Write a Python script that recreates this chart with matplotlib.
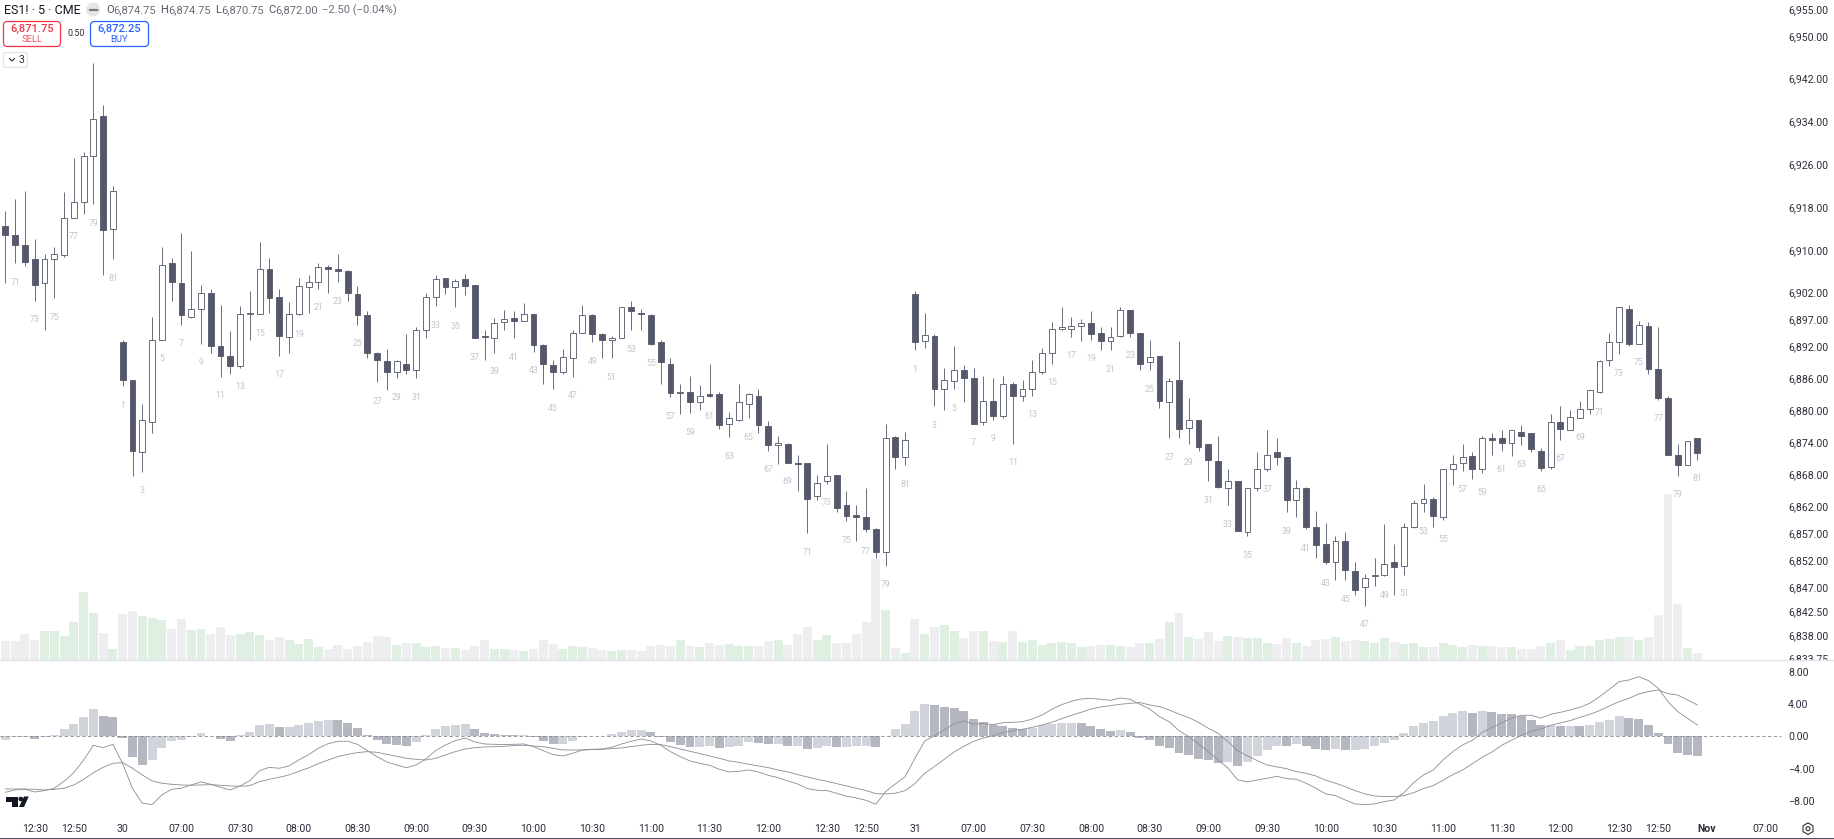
import matplotlib
matplotlib.use('Agg')
from matplotlib import pyplot as plt
from matplotlib.patches import FancyBboxPatch, Circle, Polygon, RegularPolygon

# ES1! 5 min bars
opens = [6914.5,6912.75,6911,6908.25,6903.75,6908.25,6909,6916,6919,6927.5,6935,6914,
 6892.75,6885.75,6872.25,6877.75,6893.25,6907.5,6903.75,6897.5,6899,6902,6892,6890.25,6888.25,6898,6898,6906.5,6901.25,6893.75,6898,6903,6904,6906.75,6906.5,6906,6901.75,6897.75,6890.75,6889.25,6887.25,6888.75,6887.5,6895,6901.25,6904.75,6903,
 6904.5,6903.5,6894,6893.5,6896.5,6897.25,6896.75,6898,6892.25,6888.5,6887.25,6889.75,6894.5,6897.75,6894.25,6893.25,6893.5,6899.25,6898.25,6897.75,6892.75,6888.75,6883.25,6883.5,6881.5,6883,6883,6877.5,6878.25,6881.25,6882.75,6877,6873.5,6873.75,6870.25,6870.25,6864,6866.75,6868,6862.25,6860.5,6860,6857.75,6853.5,6875,6871.25,
 6901.75,6893,6894,6884,6885.5,6887.5,6886,6877.75,6881.75,6879,6885,6882.75,6884,6887.25,6890.75,6895.25,6895.25,6895.75,6896.25,6894.5,6893,6894,6898.75,6894.5,6889,6890.25,6881.5,6885.75,6876.75,6878.25,6873.75,6870.5,6865.5,6866.75,6857.25,6865.5,6869,6872.25,6871.25,6863.25,6865.5,6858.25,6855,6851.75,6855.5,6850,
 6847,6849,6849.25,6851.75,6851,6858.25,6862.75,6863.5,6860,6869,6870.25,6871.5,6869,6874.75,6874.75,6874,6876,6875.75,6872.5,6869.5,6877.75,6876.25,6878.5,6880.25,6883.5,6889.5,6892.75,6899,6892.5,6895.75,6887.75,6882.25,6871.75,6869.75,6874.75]
highs = [6917.25,6919.5,6921,6912,6909.25,6910.5,6920.75,6927.25,6928.25,6945,6937,6922,
 6893.25,6885.75,6881.25,6897.5,6910.5,6908.5,6913.25,6909.75,6903.5,6902.75,6899.75,6894.75,6899.5,6902.25,6911.5,6908.5,6902.75,6900.25,6904.75,6905.25,6907.5,6907.25,6909.25,6906.25,6903.25,6898.5,6891,6891.5,6889.5,6894.25,6895.5,6902,6905.25,6904.75,6904.5,
 6905.5,6903.5,6895,6897.25,6898.75,6898.5,6900,6898,6892.5,6889.5,6891.5,6895,6899.75,6898,6894.5,6894,6899.25,6900.5,6899,6898,6893.25,6889.75,6885,6886.5,6884.75,6888.75,6883.5,6879.75,6885,6883.25,6884,6878,6875.25,6874,6871.75,6870.25,6868,6873.75,6868,6865,6862.25,6865.5,6858,6877.5,6875.25,6876,
 6902.25,6898.25,6894.25,6888,6892,6888.5,6888,6886.5,6886,6886.5,6885.25,6885.75,6889.5,6891.75,6896.5,6899.25,6897.5,6897,6898.5,6895.5,6895.5,6899.25,6898.75,6894.5,6893.25,6890.25,6886,6893,6882.25,6878.25,6873.75,6875.25,6869,6866.75,6865.5,6872.25,6876.25,6874.75,6871.25,6867,6865.75,6861.25,6859,6856.5,6857.25,6851.75,
 6849.5,6852.5,6858.75,6855,6859,6863.25,6866.25,6863.75,6869,6871.75,6873.75,6872.25,6875.25,6875.75,6876.25,6876.25,6877.25,6875.75,6873,6879.25,6880.75,6880,6881.75,6883.75,6889.5,6894.5,6899.25,6899.75,6896.75,6896.5,6895.5,6882.75,6873.75,6874.25,6874.75]
lows = [6903.75,6907.5,6907,6900.5,6895,6901,6908.75,6916,6916.75,6918.5,6905.25,6908.25,
 6884.5,6867.75,6868.5,6875.75,6893.25,6900.5,6896,6897.25,6892.5,6890.75,6886.25,6886.75,6888,6893.25,6898,6898.25,6890.25,6890.75,6897.75,6898.25,6902.75,6902,6904,6900.5,6896,6889.75,6885.25,6883.75,6886,6886.75,6886,6893.5,6899.5,6901.75,6899.25,
 6901.5,6893.5,6889.5,6890.75,6895,6893.5,6896.75,6891,6885,6884,6886.75,6886.25,6894.5,6892.75,6889.75,6889.75,6893.5,6895,6895,6892.25,6885,6882.5,6879.25,6879.5,6880,6882.5,6876.5,6875,6878,6878.5,6875.75,6872.5,6870,6870.25,6865,6857,6863.25,6866.25,6861,6859.25,6855.5,6857.25,6852.5,6851,6869,6869.75,
 6891.25,6891.75,6880.75,6880,6884,6881.5,6877.5,6877.25,6878.25,6878.5,6873.75,6881.75,6882.75,6886.75,6888.75,6895,6893.75,6893,6893.25,6891.25,6891.25,6893.75,6893.75,6887.5,6887.5,6880.5,6874.75,6874.75,6873.75,6872.5,6866.75,6865.5,6862.25,6857.5,6856.5,6865,6868.75,6869.75,6861,6860,6857.75,6852.5,6851.25,6848.25,6848.25,6845.5,
 6843.5,6847.25,6849,6845.5,6849.25,6858,6861,6858.25,6859.5,6866,6868.75,6867.25,6868.25,6871.75,6872.5,6871.5,6873.5,6872.25,6868.75,6869,6874.5,6876.25,6878.5,6879.25,6883.25,6888.25,6890.5,6892,6892.5,6886.75,6882,6871.75,6867.75,6869.75,6870.75]
closes = [6912.75,6911,6907.75,6903.5,6908.25,6909.25,6916,6919,6927.5,6934.5,6913.75,6921,
 6885.75,6872.5,6878.25,6893.25,6907.25,6904,6897.75,6899,6902,6892,6890.25,6888.25,6898,6898.25,6906.5,6901,6894,6898,6903.25,6904,6906.75,6906.5,6906,6902,6897.75,6890.75,6889.5,6887.25,6889.25,6887.5,6895,6901.25,6904.5,6903,6904.25,
 6903.25,6893.5,6893.75,6896.25,6897,6896.75,6898,6892.25,6888.75,6887.25,6890,6894.5,6897.75,6894.25,6893.25,6893.5,6899.25,6898.5,6898,6892.5,6889,6883.25,6883.5,6881.5,6882.75,6882.75,6877.25,6878.5,6881.5,6883,6877.25,6873.5,6874,6870.25,6870,6863.5,6866.5,6867.75,6861.75,6860.25,6860,6857.75,6853.5,6874.75,6871.25,6874.5,
 6892.75,6894,6884,6885.75,6887.5,6886,6877.5,6881.75,6879,6885,6882.75,6884,6887.25,6890.75,6895.25,6895.5,6895.75,6896.25,6894.25,6893,6893.75,6898.75,6894.5,6888.75,6890,6881.75,6885.5,6876.5,6878.25,6873.25,6870.75,6865.75,6866.75,6857.5,6865.5,6869,6871.75,6871.25,6863.25,6865.5,6858.25,6854.75,6851.75,6855.5,6850.25,6846.5,
 6848.75,6849.25,6851.25,6850.75,6858.25,6862.75,6863.5,6860.25,6869,6870,6871.25,6869,6874.75,6874.5,6874,6876.25,6875.25,6872.75,6869.25,6877.75,6876.5,6878.75,6880.25,6883.75,6889.25,6892.75,6899.25,6892.5,6896,6887.75,6882.25,6871.75,6869.75,6874.25,6872]

# no scale on the picture for volume, so these are relative
volumes = [57,57,78,61,86,86,72,113,204,141,81,32,138,147,132,126,120,94,122,90,93,77,99,75,78,84,75,61,69,59,48,63,40,32,45,34,41,54,72,69,45,50,50,39,42,36,36,
 30,42,59,32,32,30,27,33,60,48,32,41,39,36,30,27,30,30,27,42,45,42,59,42,39,50,46,48,42,42,41,57,59,45,78,99,59,75,51,50,77,114,303,150,36,21,
 123,78,99,105,86,66,87,86,57,54,87,54,60,45,50,54,50,39,42,45,45,41,39,51,50,63,114,140,68,63,84,57,72,69,66,66,51,48,66,50,41,60,63,69,57,61,
 57,51,66,54,48,51,39,39,51,45,39,45,42,41,39,39,33,33,41,50,59,30,41,41,60,63,69,68,59,69,135,497,167,36,21]

macd = [-6.93,-6.64,-6.56,-6.89,-6.72,-6.43,-5.57,-4.50,-2.93,-1.11,-1.40,-0.99,-3.42,-6.47,-8.29,-8.45,-7.26,-6.56,-6.43,-6.02,-5.65,-5.94,-6.31,-6.64,-6.14,-5.48,-4.25,-3.84,-3.96,-3.67,-2.93,-2.27,-1.48,-0.91,-0.62,-0.62,-0.99,-1.77,-2.52,-3.18,-3.55,-3.88,-3.55,-2.80,-1.77,-1.07,-0.54,
 -0.21,-0.70,-0.95,-0.99,-1.03,-0.99,-0.95,-1.28,-1.77,-2.27,-2.43,-2.10,-1.69,-1.61,-1.57,-1.36,-0.95,-0.62,-0.33,-0.58,-1.11,-1.90,-2.52,-3.05,-3.34,-3.59,-4.08,-4.41,-4.33,-4.17,-4.41,-4.83,-5.11,-5.53,-5.90,-6.47,-6.68,-6.72,-7.05,-7.42,-7.63,-7.92,-8.41,-6.85,-5.90,-4.99,
 -2.72,-0.58,0.08,0.78,1.53,1.90,1.53,1.57,1.44,1.69,1.73,1.81,2.14,2.64,3.34,3.92,4.33,4.62,4.70,4.58,4.45,4.74,4.58,3.96,3.38,2.43,1.81,0.70,-0.04,-0.95,-1.90,-2.93,-3.92,-5.40,-5.65,-5.40,-5.20,-4.95,-5.24,-5.32,-5.81,-6.43,-7.13,-7.34,-7.88,-8.37,
 -8.45,-8.37,-8.08,-7.88,-6.97,-5.73,-4.78,-4.17,-2.93,-1.90,-1.07,-0.49,0.49,1.07,1.69,2.23,2.60,2.60,2.27,2.72,2.97,3.26,3.59,4.08,4.91,5.81,6.76,6.97,7.38,6.89,5.94,4.29,3.05,2.23,1.40]
signal = [-6.52,-6.52,-6.52,-6.56,-6.64,-6.56,-6.43,-6.02,-5.32,-4.50,-3.84,-3.34,-3.26,-3.96,-4.78,-5.53,-5.81,-5.94,-6.02,-6.06,-6.02,-5.98,-6.06,-6.14,-6.19,-6.10,-5.61,-5.32,-5.07,-4.78,-4.33,-3.92,-3.38,-2.93,-2.52,-2.23,-2.02,-1.90,-1.98,-2.23,-2.47,-2.72,-2.85,-2.93,-2.72,-2.31,-1.90,
 -1.57,-1.40,-1.32,-1.28,-1.24,-1.15,-1.11,-1.20,-1.28,-1.48,-1.69,-1.69,-1.69,-1.65,-1.61,-1.53,-1.44,-1.28,-1.11,-0.99,-1.03,-1.28,-1.57,-1.86,-2.14,-2.43,-2.72,-3.05,-3.22,-3.46,-3.67,-3.88,-4.17,-4.41,-4.74,-5.03,-5.32,-5.57,-5.86,-6.14,-6.43,-6.72,-7.09,-7.13,-7.05,-6.72,
 -5.86,-4.58,-3.75,-2.85,-1.94,-1.24,-0.62,-0.21,0.08,0.45,0.70,0.87,1.11,1.40,1.73,2.19,2.60,2.97,3.38,3.63,3.79,3.96,4.08,4.17,3.88,3.67,3.26,2.76,2.31,1.73,0.99,0.37,-0.66,-1.77,-2.43,-3.01,-3.55,-3.79,-4.00,-4.37,-4.58,-4.91,-5.44,-5.81,-6.23,-6.72,
 -7.13,-7.38,-7.46,-7.46,-7.34,-6.97,-6.47,-6.10,-5.44,-4.74,-4.17,-3.38,-2.60,-1.94,-1.11,-0.49,0.12,0.62,0.91,1.36,1.65,1.94,2.35,2.72,3.18,3.75,4.29,4.70,5.24,5.53,5.73,5.28,5.11,4.50,3.88]
hist = [-0.41,-0.12,-0.12,-0.33,-0.04,0.16,0.95,1.53,2.43,3.38,2.52,2.39,-0.25,-2.56,-3.51,-2.93,-1.44,-0.58,-0.45,-0.12,0.41,0.04,-0.29,-0.54,0.12,0.58,1.36,1.53,1.15,1.15,1.40,1.65,1.90,2.02,1.98,1.65,1.03,0.21,-0.49,-0.99,-1.07,-1.20,-0.70,0.16,0.91,1.24,1.40,
 1.53,0.87,0.41,0.29,0.21,0.16,0.21,-0.12,-0.54,-0.91,-0.91,-0.54,-0.04,0.04,0.04,0.25,0.58,0.78,0.78,0.54,-0.04,-0.70,-1.07,-1.36,-1.36,-1.15,-1.44,-1.36,-1.20,-0.70,-0.82,-0.99,-0.99,-1.20,-1.20,-1.57,-1.40,-1.20,-1.28,-1.28,-1.24,-1.24,-1.36,0.08,0.91,1.53,
 3.13,4.00,3.84,3.63,3.46,3.13,2.14,1.77,1.36,1.24,1.03,0.95,1.03,1.36,1.57,1.69,1.69,1.61,1.32,0.95,0.66,0.78,0.49,-0.21,-0.49,-1.24,-1.44,-2.06,-2.35,-2.76,-2.89,-3.30,-3.22,-3.63,-3.22,-2.39,-1.65,-1.15,-1.24,-0.95,-1.24,-1.53,-1.69,-1.53,-1.65,-1.65,
 -1.53,-1.24,-0.78,-0.41,0.37,1.24,1.69,1.94,2.52,2.85,3.09,2.89,3.09,3.01,2.80,2.72,2.47,1.98,1.36,1.36,1.32,1.32,1.24,1.36,1.73,2.06,2.47,2.27,2.14,1.36,0.41,-0.99,-2.06,-2.27,-2.47]

session_starts = [12, 93]

price_ticks = [6955,6950,6942,6934,6926,6918,6910,6902,6897,6892,6886,6880,6874,6868,6862,6857,6852,6847,6842.5,6838,6833.75]
macd_ticks = [8,4,0,-4,-8]
time_pos = [3,7,12,18,24,30,36,42,48,54,60,66,72,78,84,88,93,99,105,111,117,123,129,135,141,147,153,159,165,169,174,180]
time_labels = ['12:30','12:50','30','07:00','07:30','08:00','08:30','09:00','09:30','10:00','10:30','11:00','11:30','12:00','12:30','12:50',
               '31','07:00','07:30','08:00','08:30','09:00','09:30','10:00','10:30','11:00','11:30','12:00','12:30','12:50','Nov','07:00']

plt.rcParams['font.family'] = ['Roboto', 'DejaVu Sans']

W, H = 1834, 839
CANDLE = '#55586a'
TEXT = '#2a2e39'

fig = plt.figure(figsize=(W/100, H/100), dpi=100, facecolor='white')
split = 660
ax_vol = fig.add_axes([0, (H-split)/H, 1, split/H], zorder=1)
ax = fig.add_axes([0, (H-split)/H, 1, split/H], zorder=2)
ax_macd = fig.add_axes([0, 0, 1, (H-split)/H], zorder=2)
ui = fig.add_axes([0, 0, 1, 1], zorder=3)

xs = list(range(len(closes)))
x_left = -5.4/9.78
x_right = (W-5.4)/9.78

# volume
vol_colors = ['#dff0e3' if c >= o else '#eeeef0' for o, c in zip(opens, closes)]
ax_vol.bar(xs, volumes, width=0.92, color=vol_colors, linewidth=0)
ax_vol.set_xlim(x_left, x_right)
ax_vol.set_ylim(0, split*3)
ax_vol.axis('off')

# candles
ax.patch.set_visible(False)
ax.vlines(xs, lows, highs, color=CANDLE, linewidth=0.62, zorder=2)
bottoms = [min(o, c) for o, c in zip(opens, closes)]
heights = [abs(o-c) for o, c in zip(opens, closes)]
fills = ['white' if c >= o else CANDLE for o, c in zip(opens, closes)]
ax.bar(xs, heights, bottom=bottoms, width=0.6, color=fills, edgecolor=CANDLE, linewidth=0.62, zorder=3)

# bar numbers under the lows
for i in xs:
    if i < session_starts[0]:
        num = 70 + i
    elif i < session_starts[1]:
        num = i - session_starts[0] + 1
    else:
        num = i - session_starts[1] + 1
    if num % 2 == 1:
        ax.annotate(str(num), (i, lows[i]), xytext=(0, -13.7), textcoords='offset points',
                    ha='center', va='center', fontsize=6.3, color='#c4c5ca', zorder=4)

ax.set_xlim(x_left, x_right)
ax.set_ylim(6902-(split-292.7)/5.35, 6902+292.7/5.35)
ax.set_xticks([])
ax.yaxis.tick_right()
ax.set_yticks(price_ticks)
ax.set_yticklabels([f'{p:,.2f}' for p in price_ticks])
ax.tick_params(axis='y', length=0, pad=-33, labelsize=7.6, labelcolor=TEXT)
for lab in ax.get_yticklabels():
    lab.set_clip_on(True)
    lab.set_clip_box(ax.bbox)
for s in ax.spines.values():
    s.set_visible(False)

# macd pane
hist_colors = ['#d1d4da' if i == 0 or hist[i] >= hist[i-1] else '#b4b7c0' for i in xs]
ax_macd.bar(xs, hist, width=0.92, color=hist_colors, linewidth=0, zorder=2)
ax_macd.axhline(0, xmax=1781/W, color='#85878f', linewidth=0.6, dashes=(4, 3), zorder=3)
ax_macd.plot(xs, signal, color='#8d8f99', linewidth=0.62, zorder=4)
ax_macd.plot(xs, macd, color='#8d8f99', linewidth=0.62, zorder=4)
ax_macd.set_xlim(x_left, x_right)
ax_macd.set_ylim((736.3-H)/8.08, (736.3-split)/8.08)
ax_macd.yaxis.tick_right()
ax_macd.set_yticks(macd_ticks)
ax_macd.set_yticklabels([f'{v:.2f}'.replace('-', '\u2212') for v in macd_ticks])
ax_macd.tick_params(axis='y', length=0, pad=-33, labelsize=7.6, labelcolor=TEXT)
ax_macd.set_xticks(time_pos)
ax_macd.set_xticklabels(time_labels)
ax_macd.tick_params(axis='x', length=0, pad=-11, labelsize=7.6, labelcolor=TEXT)
ax_macd.get_xticklabels()[time_labels.index('Nov')].set_fontweight('bold')
for name, s in ax_macd.spines.items():
    s.set_visible(name in ('top', 'bottom'))
ax_macd.spines['top'].set_color('#e0e3eb')
ax_macd.spines['top'].set_linewidth(0.9)
ax_macd.spines['bottom'].set_color('#2a2e39')
ax_macd.spines['bottom'].set_linewidth(1.2)

# header and buttons, drawn in pixel coords
ui.set_xlim(0, W)
ui.set_ylim(H, 0)
ui.axis('off')
ui.patch.set_visible(False)
ui.text(4, 10, 'ES1! \u00b7 5 \u00b7 CME', fontsize=9, color='#131722', va='center')
ui.add_patch(Circle((93, 9.5), 7, color='#e6e6e8', linewidth=0))
ui.plot([89.5, 96.5], [9.5, 9.5], color='#787b86', linewidth=1.6)
for x, label, val in [(106, 'O', '6,874.75'), (160.5, 'H', '6,874.75'), (215.5, 'L', '6,870.75'), (268.5, 'C', '6,872.00')]:
    t = ui.text(x, 10, label, fontsize=8, color='#50535e', va='center')
    ui.annotate(val, xy=(1, 0.5), xycoords=t, va='center', fontsize=8, color='#6a6d78')
ui.text(322.5, 10, '\u22122.50 (\u22120.04%)', fontsize=8, color='#6a6d78', va='center')

ui.add_patch(FancyBboxPatch((3.5, 21.5), 57, 25, boxstyle='round,pad=0,rounding_size=4', fc='white', ec='#f23645', lw=0.9))
ui.add_patch(FancyBboxPatch((90.5, 21.5), 58, 25, boxstyle='round,pad=0,rounding_size=4', fc='white', ec='#2962ff', lw=0.9))
ui.text(32, 29, '6,871.75', fontsize=8, color='#f23645', ha='center', va='center', fontweight='medium')
ui.text(32, 39, 'SELL', fontsize=6.8, color='#f7525f', ha='center', va='center')
ui.text(119.5, 29, '6,872.25', fontsize=8, color='#2962ff', ha='center', va='center', fontweight='medium')
ui.text(119.5, 39, 'BUY', fontsize=6.8, color='#2962ff', ha='center', va='center')
ui.text(76, 33.5, '0.50', fontsize=6.4, color='#2a2e39', ha='center', va='center')

ui.add_patch(FancyBboxPatch((3.5, 52.5), 24, 15, boxstyle='round,pad=0,rounding_size=2', fc='white', ec='#e0e3eb', lw=0.9))
ui.plot([9.5, 12, 14.5], [58.5, 61, 58.5], color='#2a2e39', linewidth=0.8)
ui.text(21.5, 60, '3', fontsize=7.6, color='#2a2e39', ha='center', va='center')

# logo bottom left
ui.add_patch(Polygon([(6, 796.5), (18, 796.5), (18, 807), (12, 807), (12, 801.5), (6, 801.5)], color='#131722', linewidth=0))
ui.add_patch(Circle((20.8, 799), 2.3, color='#131722', linewidth=0))
ui.add_patch(Polygon([(24, 796.5), (28.7, 796.5), (24, 807), (19, 807)], color='#131722', linewidth=0))

# settings icon
ui.add_patch(RegularPolygon((1808, 828.7), 6, radius=5.8, fill=False, ec='#2a2e39', lw=0.8))
ui.add_patch(Circle((1808, 828.7), 2, fill=False, ec='#2a2e39', lw=0.8))

fig.savefig('out.png', dpi=100)
